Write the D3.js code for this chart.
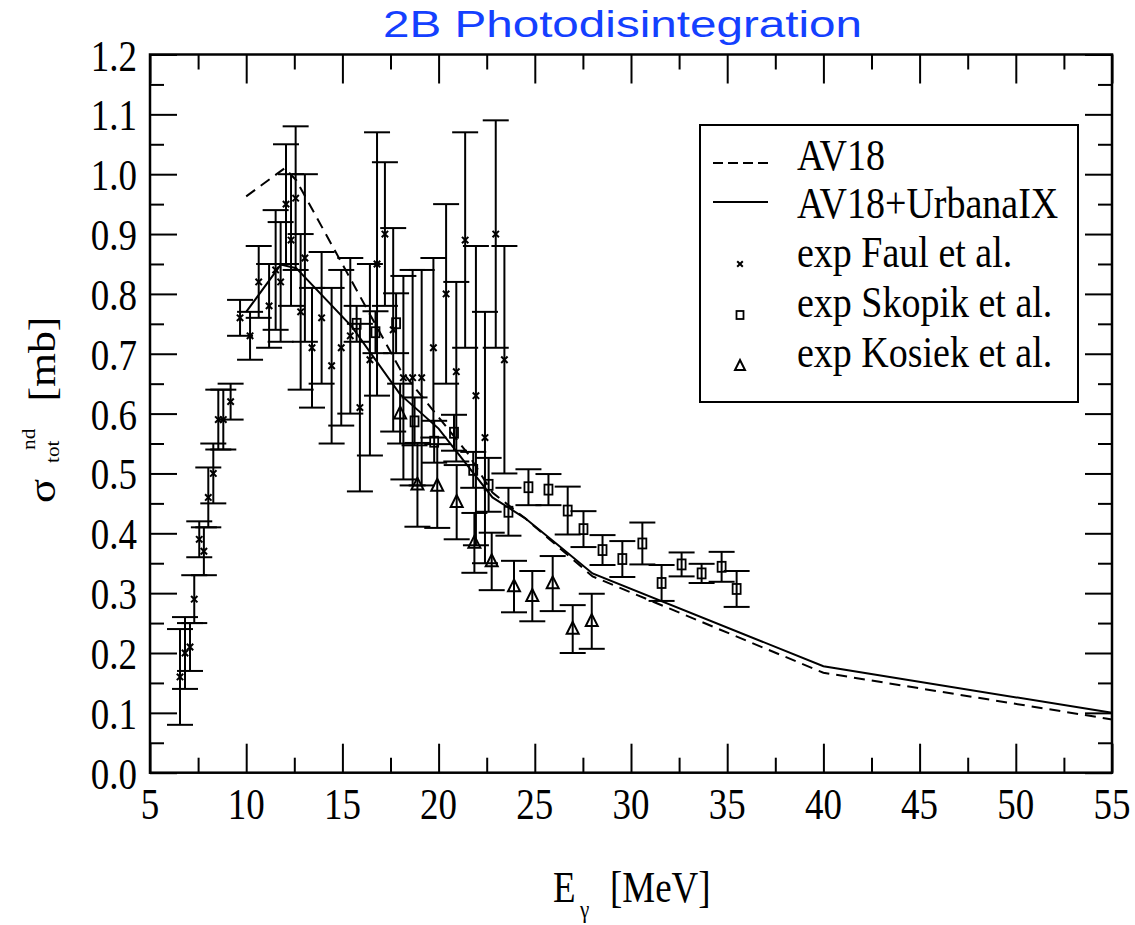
<!DOCTYPE html>
<html>
<head>
<meta charset="utf-8">
<script src="https://cdn.jsdelivr.net/npm/d3@7"></script>
<style>
  body { margin: 0; background: #fff; }
  text { font-family: "Liberation Serif", "Times New Roman", serif; }
  text.title { font-family: "Liberation Sans", Helvetica, Arial, sans-serif; }
</style>
</head>
<body>
<script>
// theory curves
const av18E = [10, 12, 12.6, 18, 20.1, 21.5, 22.8, 24.5, 28, 40, 55];
const av18S = [0.963, 1.01, 0.99, 0.674, 0.59, 0.534, 0.468, 0.425, 0.328, 0.167, 0.089];
const uixE = [10, 11.8, 12.6, 15.5, 18, 20, 22.8, 24.5, 26.3, 28, 40, 55];
const uixS = [0.77, 0.849, 0.843, 0.745, 0.632, 0.575, 0.46, 0.425, 0.378, 0.333, 0.178, 0.10];

// exp Faul et al.
const faulE = [6.56, 6.82, 7.08, 7.3, 7.56, 7.8, 8.03, 8.29, 8.55, 8.81, 9.19, 9.68, 10.2, 10.65, 11.19, 11.53, 11.79, 12.07, 12.33, 12.57, 12.83, 13.05, 13.42, 13.92, 14.44, 14.94, 15.41, 15.91, 16.43, 16.8, 17.21, 17.64, 18.17, 18.65, 19.12, 19.73, 20.39, 20.92, 21.38, 21.94, 22.41, 22.97, 23.42];
const faulS = [0.16, 0.20, 0.21, 0.29, 0.39, 0.37, 0.46, 0.50, 0.59, 0.59, 0.62, 0.76, 0.73, 0.82, 0.78, 0.84, 0.82, 0.95, 0.89, 0.96, 0.77, 0.86, 0.71, 0.76, 0.68, 0.71, 0.73, 0.61, 0.69, 0.85, 0.90, 0.74, 0.66, 0.66, 0.66, 0.71, 0.80, 0.67, 0.89, 0.63, 0.56, 0.90, 0.69];
const faulErr = [0.08, 0.06, 0.04, 0.04, 0.03, 0.04, 0.05, 0.05, 0.05, 0.05, 0.03, 0.03, 0.04, 0.06, 0.07, 0.10, 0.10, 0.10, 0.11, 0.12, 0.13, 0.14, 0.10, 0.11, 0.13, 0.13, 0.13, 0.14, 0.16, 0.22, 0.12, 0.17, 0.17, 0.18, 0.18, 0.15, 0.15, 0.15, 0.18, 0.25, 0.21, 0.19, 0.19];

// exp Skopik et al.
const skE = [15.74, 16.72, 17.79, 18.75, 19.77, 20.8, 21.8, 22.6, 23.63, 24.67, 25.71, 26.71, 27.53, 28.52, 29.55, 30.59, 31.59, 32.63, 33.67, 34.71, 35.49];
const skS = [0.75, 0.736, 0.751, 0.587, 0.553, 0.568, 0.506, 0.481, 0.436, 0.477, 0.473, 0.438, 0.407, 0.372, 0.357, 0.383, 0.317, 0.348, 0.333, 0.344, 0.307];
const skErr = [0.03, 0.035, 0.05, 0.04, 0.035, 0.03, 0.03, 0.045, 0.04, 0.03, 0.026, 0.04, 0.03, 0.025, 0.03, 0.035, 0.03, 0.02, 0.016, 0.025, 0.03];

// exp Kosiek et al.
const koE = [18.0, 18.9, 19.93, 20.94, 21.86, 22.76, 23.92, 24.87, 25.93, 26.97, 27.96];
const koS = [0.60, 0.481, 0.479, 0.452, 0.384, 0.353, 0.311, 0.295, 0.316, 0.24, 0.253];
const koErr = [0.05, 0.07, 0.07, 0.062, 0.05, 0.048, 0.043, 0.042, 0.046, 0.04, 0.046];

// axes
const xMajor = [5, 10, 15, 20, 25, 30, 35, 40, 45, 50, 55];
const xMinor = [7.5, 12.5, 17.5, 22.5, 27.5, 32.5, 37.5, 42.5, 47.5, 52.5];
const yMajor = [0, 0.1, 0.2, 0.3, 0.4, 0.5, 0.6, 0.7, 0.8, 0.9, 1.0, 1.1, 1.2];
const yMinor = [0.05, 0.15, 0.25, 0.35, 0.45, 0.55, 0.65, 0.75, 0.85, 0.95, 1.05, 1.15];
const legendLabels = ["AV18", "AV18+UrbanaIX", "exp Faul et al.", "exp Skopik et al.", "exp Kosiek et al."];

const W = 1135, H = 925, SY = 1.18;
const L = 150, R = 1112, T = 54.5, B = 772.7;

const svg = d3.select("body").append("svg").attr("width", W).attr("height", H);
const x = d3.scaleLinear().domain([5, 55]).range([L, R]);
const y = d3.scaleLinear().domain([0, 1.2]).range([B, T]);

// stretched text helper (the original text is taller than wide)
function stext(g, px, py, str, size, anchor) {
  return g.append("text")
    .attr("transform", `translate(${px},${py}) scale(1,${SY})`)
    .attr("font-size", size)
    .attr("text-anchor", anchor || "start")
    .attr("fill", "#000")
    .text(str);
}

// ticks on all four sides, pointing inward
function ticks(axis, tr, vals, size) {
  const g = svg.append("g").attr("transform", tr)
    .call(axis.tickValues(vals).tickSize(-size).tickFormat(""));
  g.select(".domain").remove();
  g.selectAll("line").attr("stroke", "#000").attr("stroke-width", 2);
}
ticks(d3.axisBottom(x), `translate(0,${B})`, xMajor, 29);
ticks(d3.axisBottom(x), `translate(0,${B})`, xMinor, 15);
ticks(d3.axisTop(x), `translate(0,${T})`, xMajor, 29);
ticks(d3.axisTop(x), `translate(0,${T})`, xMinor, 15);
ticks(d3.axisLeft(y), `translate(${L},0)`, yMajor, 27);
ticks(d3.axisLeft(y), `translate(${L},0)`, yMinor, 14);
ticks(d3.axisRight(y), `translate(${R},0)`, yMajor, 27);
ticks(d3.axisRight(y), `translate(${R},0)`, yMinor, 14);

// tick labels
const lab = svg.append("g");
xMajor.forEach(v => stext(lab, x(v), 819, String(v), 37, "middle"));
yMajor.forEach(v => stext(lab, 137, y(v) + 16, v.toFixed(1), 37, "end"));

// error bars
const cap = 13;
function errorBars(E, S, Er) {
  const g = svg.append("g").attr("stroke", "#000").attr("stroke-width", 2);
  E.forEach((e, i) => {
    const cx = x(e), y0 = y(S[i] - Er[i]), y1 = y(S[i] + Er[i]);
    g.append("line").attr("x1", cx).attr("x2", cx).attr("y1", y0).attr("y2", y1);
    g.append("line").attr("x1", cx - cap).attr("x2", cx + cap).attr("y1", y0).attr("y2", y0);
    g.append("line").attr("x1", cx - cap).attr("x2", cx + cap).attr("y1", y1).attr("y2", y1);
  });
}
errorBars(faulE, faulS, faulErr);
errorBars(skE, skS, skErr);
errorBars(koE, koS, koErr);

// markers
function cross(g, cx, cy, h) {
  g.append("path").attr("d", `M${cx - h},${cy - h}L${cx + h},${cy + h}M${cx - h},${cy + h}L${cx + h},${cy - h}`)
    .attr("stroke", "#000").attr("stroke-width", 2).attr("fill", "none");
}
function square(g, cx, cy, w, h) {
  g.append("rect").attr("x", cx - w / 2).attr("y", cy - h / 2).attr("width", w).attr("height", h)
    .attr("stroke", "#000").attr("stroke-width", 1.8).attr("fill", "none");
}
function tri(g, cx, cy, w, h) {
  g.append("path").attr("d", `M${cx},${cy - h * 0.6}L${cx + w / 2},${cy + h * 0.4}L${cx - w / 2},${cy + h * 0.4}Z`)
    .attr("stroke", "#000").attr("stroke-width", 2).attr("fill", "none");
}
const mk = svg.append("g");
faulE.forEach((e, i) => cross(mk, x(e), y(faulS[i]), 3.2));
skE.forEach((e, i) => square(mk, x(e), y(skS[i]), 8, 10));
koE.forEach((e, i) => tri(mk, x(e), y(koS[i]), 12, 12));

// theory lines
const line = d3.line().x(d => x(d[0])).y(d => y(d[1]));
svg.append("path").datum(av18E.map((e, i) => [e, av18S[i]]))
  .attr("d", line).attr("fill", "none").attr("stroke", "#000")
  .attr("stroke-width", 2).attr("stroke-dasharray", "11,7");
svg.append("path").datum(uixE.map((e, i) => [e, uixS[i]]))
  .attr("d", line).attr("fill", "none").attr("stroke", "#000").attr("stroke-width", 2);

// frame
svg.append("rect").attr("x", L).attr("y", T).attr("width", R - L).attr("height", B - T)
  .attr("fill", "none").attr("stroke", "#000").attr("stroke-width", 2.5);

// legend
const lg = svg.append("g");
lg.append("rect").attr("x", 700).attr("y", 125).attr("width", 378).attr("height", 277)
  .attr("fill", "#fff").attr("stroke", "#000").attr("stroke-width", 2);
const rowBase = [170, 218, 267, 317, 367];
lg.append("line").attr("x1", 713).attr("x2", 768).attr("y1", 163).attr("y2", 163)
  .attr("stroke", "#000").attr("stroke-width", 2).attr("stroke-dasharray", "10,5");
lg.append("line").attr("x1", 713).attr("x2", 768).attr("y1", 202).attr("y2", 202)
  .attr("stroke", "#000").attr("stroke-width", 2);
cross(lg, 740, 264, 2.8);
square(lg, 740, 315, 7, 8);
tri(lg, 740, 366, 10, 10);
legendLabels.forEach((t, i) => stext(lg, 797, rowBase[i], t, 38));

// title
svg.append("text").attr("class", "title").attr("x", 383).attr("y", 37)
  .attr("font-size", 37).attr("fill", "#1440ff")
  .attr("textLength", 479).attr("lengthAdjust", "spacingAndGlyphs")
  .text("2B Photodisintegration");

// x axis title
const xt = svg.append("g");
stext(xt, 553, 902, "E", 37);
stext(xt, 580, 918, "γ", 21);
stext(xt, 610, 902, "[MeV]", 37);

// y axis title (rotated)
const yt = svg.append("g").attr("transform", `translate(55,503) scale(1,${SY}) rotate(-90)`);
yt.append("text").attr("x", 0).attr("y", 0).attr("font-size", 38).text("σ");
yt.append("text").attr("x", 45).attr("y", -20).attr("font-size", 18).text("nd");
yt.append("text").attr("x", 34).attr("y", 4).attr("font-size", 18).text("tot");
yt.append("text").attr("x", 86).attr("y", 0).attr("font-size", 37).text("[mb]");
</script>
</body>
</html>
